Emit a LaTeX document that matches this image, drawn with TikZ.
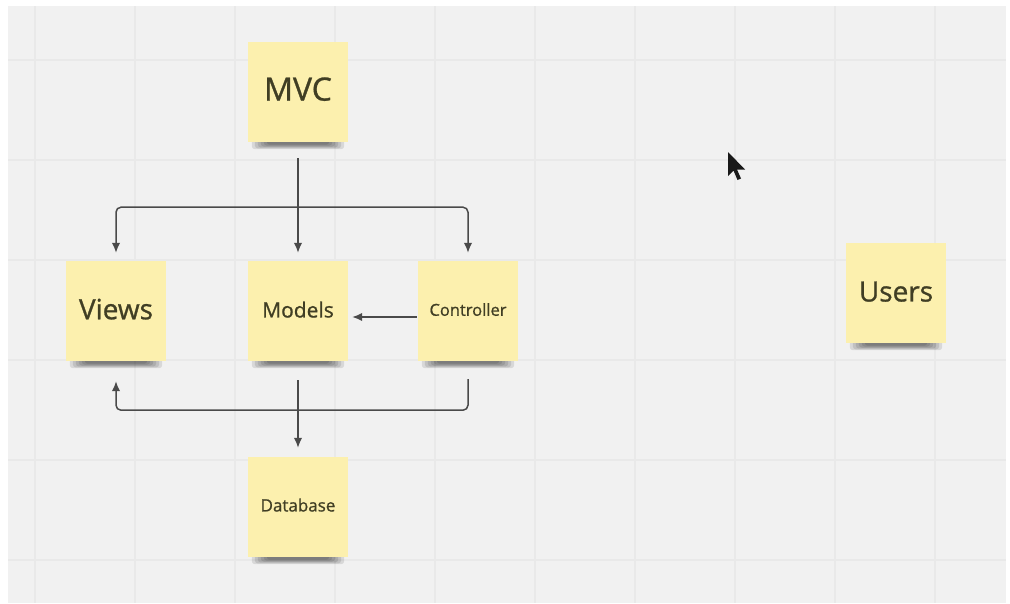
\documentclass[tikz,border=0pt]{standalone}
\usepackage{fontspec}
\setmainfont{Open Sans}
\newfontfamily\notefont{Open Sans}[FakeBold=0.9]
\usetikzlibrary{arrows.meta}
\definecolor{boardbg}{HTML}{F1F1F1}
\definecolor{gridline}{HTML}{E9E9E9}
\definecolor{notefill}{HTML}{FCF0AE}
\definecolor{notetext}{HTML}{403E24}
\definecolor{wire}{HTML}{4A4A4A}
\pgfdeclarelayer{board}
\pgfdeclarelayer{shade}
\pgfsetlayers{board,shade,main}
\tikzset{
  sticky/.style={draw=none, fill=notefill, minimum width=100pt, minimum height=100pt,
    inner sep=0pt, text=notetext, font=\notefont\fontsize{#1}{#1}\selectfont},
  conn/.style={draw=wire, line width=1.5pt, rounded corners=5pt,
    -{Latex[length=10pt,width=8.5pt]}},
}
\begin{document}
\begin{tikzpicture}[x=1pt,y=-1pt]
\useasboundingbox (0,0) rectangle (1010,603);

% board with its grid
\begin{pgfonlayer}{board}
  \fill[white] (0,0) rectangle (1010,603);
  \fill[boardbg] (8,6) rectangle (1006,603);
  \foreach \gx in {35,135,...,935}
    \draw[gridline, line width=1.2pt] (\gx,6) -- (\gx,603);
  \foreach \gy in {60,160,...,560}
    \draw[gridline, line width=1.2pt] (8,\gy) -- (1006,\gy);
\end{pgfonlayer}

% sticky notes
\node[sticky=32] (mvc) at (298,92) {\raisebox{6pt}{MVC}};
\node[sticky=28] (views) at (116,311) {\raisebox{4pt}{Views}};
\node[sticky=21] (models) at (298,311) {\raisebox{3pt}{Models}};
\node[sticky=16.5] (controller) at (468,311) {\raisebox{3pt}{Controller}};
\node[sticky=17] (database) at (298,507) {\raisebox{4pt}{Database}};
\node[sticky=28] (users) at (896,293) {\raisebox{3pt}{Users}};

% soft shadows under the notes
\begin{pgfonlayer}{shade}
  \foreach \n in {mvc,views,models,controller,database,users}
    \foreach \i in {0,...,5}
      \fill[black, opacity=0.1, rounded corners=3pt]
        ([xshift={(4+3*\i)*1pt}, yshift=3pt]\n.south west) rectangle
        ([xshift={(-4-3*\i)*1pt}, yshift={(-7+0.9*\i)*1pt}]\n.south east);
\end{pgfonlayer}

% connectors
\coordinate (split) at ([yshift=-65pt]mvc.south);
\coordinate (bus) at ([yshift=-49pt]models.south);
\draw[conn, shorten <=16pt, shorten >=8pt] (mvc.south) -- (models.north);
\draw[conn, shorten >=8pt] (split) -| (views.north);
\draw[conn, shorten >=8pt] (split) -| (controller.north);
\draw[conn, shorten <=1pt, shorten >=4pt] ([yshift=-6pt]controller.west) -- ([yshift=-6pt]models.east);
\draw[conn, shorten <=18pt, shorten >=20pt] (controller.south) |- (bus) -| (views.south);
\draw[conn, shorten <=19pt, shorten >=9pt] (models.south) -- (database.north);

% pointer
\fill[black!90] (728,152) -- (728,176) -- (733.5,170.5) -- (737.5,180) -- (741,178.5)
  -- (737,169.5) -- (745,169.5) -- cycle;
\end{tikzpicture}
\end{document}
